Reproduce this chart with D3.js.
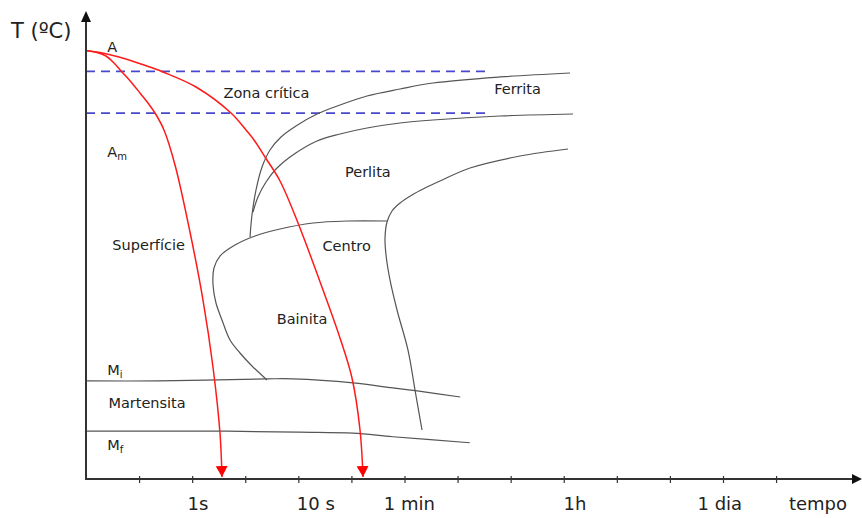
<!DOCTYPE html>
<html>
<head>
<meta charset="utf-8">
<script src="https://cdn.jsdelivr.net/npm/d3@7"></script>
<style>
  html, body { margin: 0; padding: 0; background: #fff; }
  svg { display: block; font-family: "DejaVu Sans", Verdana, sans-serif; }
</style>
</head>
<body>
<svg id="chart" width="862" height="518"></svg>
<script>
// Time axis is in "tick units" (one unit per minor tick), temperature in ºC.
const tickValues = [1, 2, 3, 4, 5, 6, 7, 8, 9, 10, 11, 12, 13];
const timeLabels = ["1s", "10 s", "1 min", "1h", "1 dia", "tempo"];
const timeLabelAt = [2.11, 4.33, 6.09, 9.21, 11.94, 13.79];

// Critical temperatures (ºC)
const tA3 = 810;
const tA1 = 727;
const criticalLineEnd = 7.61;

// Cooling curves: [time, T]
const coolingSurface = [
  [0.02, 851], [0.207, 847.5], [0.377, 840.6], [0.527, 826.7], [0.678, 808.8],
  [0.848, 788.9], [1.017, 767.1], [1.168, 747.2], [1.300, 727.3], [1.469, 693.5],
  [1.677, 624.0], [1.959, 490.8], [2.204, 355.7], [2.392, 222.6], [2.524, 91.4],
  [2.562, 4]
];
const coolingCenter = [
  [0.02, 851], [0.264, 847.5], [0.622, 838.6], [1.036, 824.7], [1.451, 808.8],
  [2.072, 779.0], [2.732, 727.3], [3.014, 693.5], [3.165, 673.7], [3.372, 639.9],
  [3.655, 592.2], [3.994, 508.7], [4.465, 375.6], [4.785, 280.2], [5.011, 200.7],
  [5.162, 97.4], [5.219, 4]
];

// Transformation boundaries: [time, T]
const ferriteStart = [
  [3.090, 480.9], [3.127, 524.6], [3.203, 574.3], [3.316, 620.0], [3.466, 653.8],
  [3.674, 679.6], [3.956, 701.5], [4.352, 725.3], [4.785, 743.2], [5.294, 761.1],
  [5.916, 775.0], [6.537, 786.9], [7.800, 798.9], [9.118, 806.8]
];
const pearliteStart = [
  [3.146, 530.6], [3.240, 560.4], [3.391, 590.2], [3.579, 616.0], [3.843, 639.9],
  [4.352, 671.7], [4.785, 685.6], [5.294, 697.5], [5.916, 707.4], [6.537, 713.4],
  [7.800, 721.3], [9.175, 725.3]
];
const transformEnd = [
  [6.330, 97.4], [6.198, 176.9], [6.066, 256.3], [5.859, 335.8], [5.727, 395.5],
  [5.652, 445.1], [5.633, 478.9], [5.671, 510.7], [5.765, 532.6], [5.916, 548.5],
  [6.141, 564.4], [6.387, 578.3], [6.669, 592.2], [7.234, 618.0], [8.176, 641.8],
  [9.081, 655.8]
];
const bainiteStart = [
  [5.671, 512.7], [4.917, 512.7], [4.277, 508.7], [3.655, 496.8], [3.184, 482.9],
  [2.807, 465.0], [2.524, 443.1], [2.411, 419.3], [2.393, 385.5], [2.449, 349.7],
  [2.562, 316.0], [2.713, 276.2], [2.901, 250.4], [3.127, 224.6], [3.410, 196.7]
];
const msLine = [
  [0.02, 195], [1.39, 195], [3.41, 199], [3.90, 199], [5.03, 191], [5.78, 181],
  [6.24, 175], [7.05, 163]
];
const mfLine = [
  [-0.02, 95], [2.66, 95], [4.03, 93], [5.03, 91], [5.78, 84], [7.23, 72]
];

// Region labels
const regionNames = ["Zona crítica", "Ferrita", "Perlita", "Centro", "Bainita", "Superfície", "Martensita"];
const regionAt = [[3.40, 757], [8.13, 765], [5.31, 600], [4.91, 453], [4.07, 308], [1.18, 455], [1.15, 141]];
// Phase symbols with subscript: [main, sub]
const phaseSymbols = [["A", ""], ["A", "m"], ["M", "i"], ["M", "f"]];
const phaseAt = [[0.40, 848], [0.40, 640], [0.40, 207], [0.40, 58]];

const svg = d3.select("#chart");

const x = d3.scaleLinear().domain([0, 14.6]).range([86, 861]);
const y = d3.scaleLinear().domain([0, 930]).range([479, 11]);

const defs = svg.append("defs");
defs.append("marker")
  .attr("id", "redArrow")
  .attr("viewBox", "0 -6 11 12")
  .attr("refX", 11).attr("refY", 0)
  .attr("markerWidth", 11).attr("markerHeight", 12)
  .attr("markerUnits", "userSpaceOnUse")
  .attr("orient", "auto")
  .append("path").attr("d", "M0,-6L11,0L0,6Z").attr("fill", "#ff0000");

const line = d3.line()
  .x(d => x(d[0])).y(d => y(d[1]))
  .curve(d3.curveCatmullRom.alpha(0.5));

// Critical temperature dashed lines
[tA3, tA1].forEach(t => {
  svg.append("line")
    .attr("x1", x(0)).attr("x2", x(criticalLineEnd))
    .attr("y1", y(t)).attr("y2", y(t))
    .attr("stroke", "#4848cc").attr("stroke-width", 1.6)
    .attr("stroke-dasharray", "9,6");
});

// Transformation curves
[ferriteStart, pearliteStart, transformEnd, bainiteStart, msLine, mfLine].forEach(pts => {
  svg.append("path")
    .attr("d", line(pts))
    .attr("fill", "none")
    .attr("stroke", "#555")
    .attr("stroke-width", 1.2);
});

// Cooling curves
[coolingSurface, coolingCenter].forEach(pts => {
  svg.append("path")
    .attr("d", line(pts))
    .attr("fill", "none")
    .attr("stroke", "#ff1a1a")
    .attr("stroke-width", 1.5)
    .attr("marker-end", "url(#redArrow)");
});

// Axes
const xAxis = d3.axisBottom(x).tickValues(tickValues).tickSize(4).tickFormat("");
const gx = svg.append("g").attr("transform", `translate(0,${y(0)})`).call(xAxis);
gx.select(".domain").remove();
gx.selectAll(".tick line").attr("y1", -3).attr("stroke", "#333").attr("stroke-width", 1.2);

svg.append("line")
  .attr("x1", x(0) - 1).attr("x2", 852)
  .attr("y1", y(0)).attr("y2", y(0))
  .attr("stroke", "#333").attr("stroke-width", 2);
svg.append("path")
  .attr("d", `M852,${y(0) - 5}L862,${y(0)}L852,${y(0) + 5}Z`)
  .attr("fill", "#111");

svg.append("line")
  .attr("x1", x(0)).attr("x2", x(0))
  .attr("y1", y(0) + 1).attr("y2", 20)
  .attr("stroke", "#333").attr("stroke-width", 2);
svg.append("path")
  .attr("d", `M${x(0) - 5},22L${x(0)},11L${x(0) + 5},22Z`)
  .attr("fill", "#111");

// Time labels
svg.selectAll("text.time")
  .data(timeLabels)
  .join("text")
  .attr("class", "time")
  .attr("x", (d, i) => x(timeLabelAt[i]))
  .attr("y", 510)
  .attr("text-anchor", "middle")
  .attr("font-size", 18)
  .attr("fill", "#222")
  .text(d => d);

// Axis title
svg.append("text")
  .attr("x", 11).attr("y", 38)
  .attr("font-size", 21)
  .attr("fill", "#222")
  .text("T (ºC)");

// Region labels
svg.selectAll("text.region")
  .data(regionNames)
  .join("text")
  .attr("class", "region")
  .attr("x", (d, i) => x(regionAt[i][0]))
  .attr("y", (d, i) => y(regionAt[i][1]))
  .attr("text-anchor", "middle")
  .attr("font-size", 14.5)
  .attr("fill", "#222")
  .text(d => d);

// Phase symbols with subscripts
phaseSymbols.forEach((s, i) => {
  const t = svg.append("text")
    .attr("x", x(phaseAt[i][0]))
    .attr("y", y(phaseAt[i][1]))
    .attr("font-size", 14.5)
    .attr("fill", "#222");
  t.append("tspan").text(s[0]);
  if (s[1]) {
    t.append("tspan").attr("font-size", 10).attr("dy", 3).text(s[1]);
  }
});
</script>
</body>
</html>
